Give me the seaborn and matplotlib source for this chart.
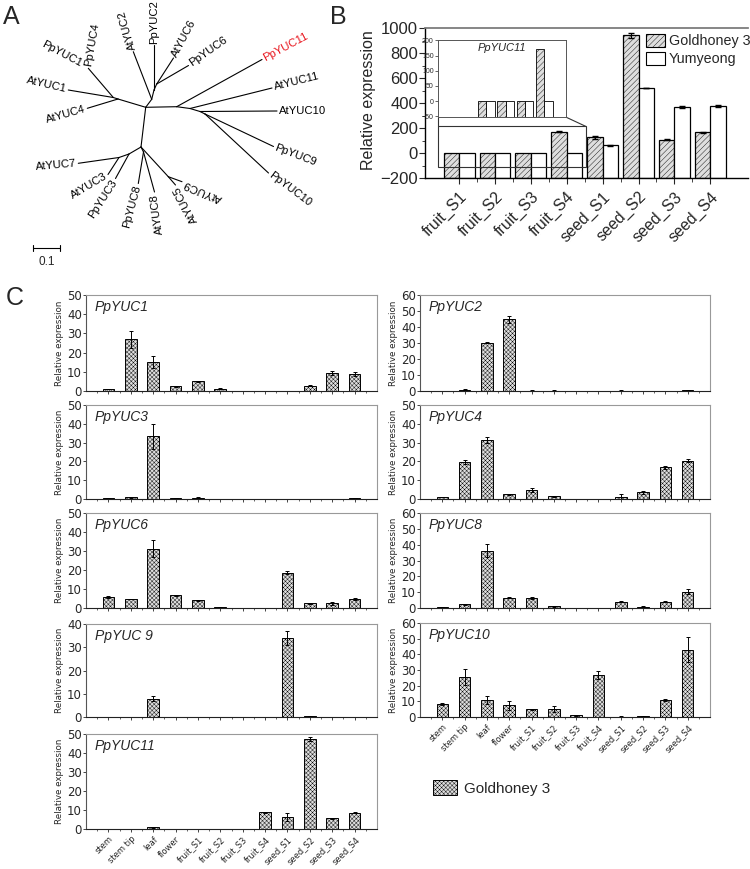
import numpy as np
import pandas as pd
import matplotlib
matplotlib.use("Agg")
import matplotlib.pyplot as plt
import seaborn as sns
from matplotlib.patches import Patch, Rectangle

# ==============================
# DATA
# ==============================
# panel A: unrooted tree, node positions (pixels)
tree_nodes = {
    "R": (145.7, 107.3), "N1": (176.7, 106.7), "N2": (190.0, 108.5),
    "N3": (200.0, 111.5), "N4": (205.0, 114.0),
    "U": (151.7, 99.3), "U2": (154.0, 90.0), "U3": (156.7, 84.0),
    "L": (113.3, 97.5), "L4": (118.0, 99.0), "P": (88.3, 68.3),
    "D": (141.0, 147.0), "D1": (119.0, 157.5), "D2": (129.0, 154.0),
    "D4": (143.5, 152.0), "D3": (168.3, 176.7),
    "PpYUC11": (262.0, 59.5), "AtYUC11": (272.0, 88.0), "AtYUC10": (277.0, 111.0),
    "PpYUC9": (273.5, 146.5), "PpYUC10": (268.5, 173.0),
    "AtYUC2": (133.3, 51.7), "PpYUC2": (154.0, 44.5), "AtYUC6": (173.5, 58.0),
    "PpYUC6": (188.5, 65.5), "AtYUC1": (68.3, 90.0), "AtYUC4": (87.3, 108.3),
    "AtYUC7": (78.3, 163.3), "AtYUC3": (108.0, 174.5), "PpYUC3": (115.5, 178.5),
    "PpYUC8": (138.3, 183.5), "AtYUC8": (154.5, 192.0),
    "AtYUC5": (175.5, 185.0), "AtYUC9": (182.0, 181.7),
}
tree_edges = [
    ("R", "N1"), ("N1", "PpYUC11"), ("N1", "N2"), ("N2", "AtYUC11"), ("N2", "N3"),
    ("N3", "AtYUC10"), ("N3", "N4"), ("N4", "PpYUC9"), ("N4", "PpYUC10"),
    ("R", "U"), ("U", "AtYUC2"), ("U", "U2"), ("U2", "PpYUC2"), ("U2", "U3"),
    ("U3", "AtYUC6"), ("U3", "PpYUC6"),
    ("R", "L4"), ("L4", "L"), ("L4", "AtYUC4"), ("L", "AtYUC1"), ("L", "P"),
    ("R", "D"), ("D", "D2"), ("D2", "D1"), ("D1", "AtYUC7"), ("D1", "AtYUC3"),
    ("D2", "PpYUC3"), ("D", "D4"), ("D4", "PpYUC8"), ("D4", "AtYUC8"),
    ("D", "D3"), ("D3", "AtYUC5"), ("D3", "AtYUC9"),
]
# label: (text, anchor node, rotation, text starts at tip?, gap)
tree_labels = [
    ("PpYUC11", "PpYUC11", 28, True, 2), ("AtYUC11", "AtYUC11", 14, True, 2),
    ("AtYUC10", "AtYUC10", 0, True, 2), ("PpYUC9", "PpYUC9", -21, True, 2),
    ("PpYUC10", "PpYUC10", -37, True, 2), ("AtYUC2", "AtYUC2", 106, True, 2),
    ("PpYUC2", "PpYUC2", 90, True, 1), ("AtYUC6", "AtYUC6", 62, True, 2),
    ("PpYUC6", "PpYUC6", 35, True, 2), ("PpYUC4", "P", 80, True, 2),
    ("PpYUC1", "P", -28, False, 8), ("AtYUC1", "AtYUC1", -13, False, 2),
    ("AtYUC4", "AtYUC4", 16, False, 2), ("AtYUC7", "AtYUC7", 5, False, 2),
    ("AtYUC3", "AtYUC3", 31, False, 2), ("PpYUC3", "PpYUC3", 57, False, 2),
    ("PpYUC8", "PpYUC8", 75, False, 2), ("AtYUC8", "AtYUC8", 98, False, 2),
    ("AtYUC5", "AtYUC5", 118, False, 2), ("AtYUC9", "AtYUC9", 157, False, 2),
]

# panel B
b_stages = ["fruit_S1", "fruit_S2", "fruit_S3", "fruit_S4",
            "seed_S1", "seed_S2", "seed_S3", "seed_S4"]
b_gold = [0, 0, 0, 170, 125, 941, 107, 168]
b_gold_err = [0, 0, 0, 3, 10, 20, 3, 4]
b_yum = [0, 0, 0, 0, 61, 520, 365, 376]
b_yum_err = [0, 0, 0, 0, 3, 3, 8, 10]
inset_stages = b_stages[:4]

# panel C
tissues = ["stem", "stem tip", "leaf", "flower", "fruit_S1", "fruit_S2", "fruit_S3",
           "fruit_S4", "seed_S1", "seed_S2", "seed_S3", "seed_S4"]
yuc1 = [1.0, 27.0, 15.2, 2.4, 5.0, 1.2, 0.1, 0.1, 0.1, 2.7, 9.4, 8.9]
yuc1_err = [0.2, 4.5, 3.0, 0.3, 0.4, 0.2, 0, 0, 0, 0.3, 1.0, 1.2]
yuc3 = [0.5, 0.8, 33.3, 0.4, 0.7, 0.1, 0.1, 0.1, 0.1, 0.1, 0.1, 0.4]
yuc3_err = [0.1, 0.1, 6.5, 0.1, 0.1, 0, 0, 0, 0, 0, 0, 0.1]
yuc6 = [5.8, 4.7, 31.2, 6.7, 4.0, 0.5, 0.1, 0.1, 18.6, 2.5, 2.6, 4.7]
yuc6_err = [0.3, 0.1, 4.4, 0.3, 0.3, 0.1, 0, 0, 0.8, 0.2, 0.8, 0.4]
yuc9 = [0.1, 0.2, 7.9, 0.1, 0.1, 0, 0, 0.1, 33.8, 0.4, 0, 0]
yuc9_err = [0, 0, 1.0, 0, 0, 0, 0, 0, 3.0, 0.2, 0, 0]
yuc11 = [0, 0, 0.9, 0, 0, 0, 0.2, 8.8, 6.3, 47.4, 5.6, 8.5]
yuc11_err = [0, 0, 0.2, 0, 0, 0, 0, 0.3, 2.0, 1.0, 0.2, 0.3]
yuc2 = [0.2, 0.8, 30.3, 44.8, 0.3, 0.3, 0.2, 0.2, 0.3, 0, 0.2, 0.5]
yuc2_err = [0.1, 0.2, 0.6, 2.2, 0.1, 0.1, 0.1, 0.1, 0.1, 0, 0.1, 0.3]
yuc4 = [1.0, 19.8, 31.4, 2.5, 4.9, 1.5, 0.2, 0.2, 1.3, 3.5, 16.8, 20.4]
yuc4_err = [0.2, 1.2, 1.5, 0.3, 1.0, 0.2, 0, 0, 1.5, 0.6, 0.7, 0.8]
yuc8 = [0.6, 2.3, 36.2, 6.6, 6.4, 1.1, 0.2, 0.2, 4.0, 0.8, 4.0, 10.4]
yuc8_err = [0.2, 0.3, 4.0, 0.5, 0.4, 0.3, 0, 0, 0.3, 0.2, 0.4, 1.3]
yuc10 = [8.5, 25.5, 10.8, 7.5, 4.8, 5.0, 1.0, 26.8, 0.3, 0.5, 10.8, 42.8]
yuc10_err = [0.6, 5.0, 2.5, 3.0, 0.5, 2.0, 0.3, 2.5, 0.1, 0.2, 0.7, 8.0]

# ==============================
# STYLE
# ==============================
sns.set_theme(style="white")
plt.rcParams["font.family"] = ["Liberation Sans", "DejaVu Sans"]
plt.rcParams["hatch.linewidth"] = 0.3

GOLD_FC = "#dedede"
W, H = 750, 869
fig = plt.figure(figsize=(7.5, 8.69), dpi=100)


def px_axes(x0, y0, x1, y1):
    return fig.add_axes([x0 / W, 1 - y1 / H, (x1 - x0) / W, (y1 - y0) / H])


# ==============================
# PANEL A - TREE
# ==============================
ax_t = px_axes(0, 0, 330, 290)
ax_t.set_xlim(0, 330)
ax_t.set_ylim(290, 0)
ax_t.axis("off")
for a, b in tree_edges:
    (x0, y0), (x1, y1) = tree_nodes[a], tree_nodes[b]
    ax_t.plot([x0, x1], [y0, y1], color="black", lw=0.8)

for name, node, rot, start, gap in tree_labels:
    x, y = tree_nodes[node]
    th = np.deg2rad(rot)
    off = gap if start else -gap
    x, y = x + off * np.cos(th), y - off * np.sin(th)
    ax_t.text(x, y, name, rotation=rot, rotation_mode="anchor",
              ha="left" if start else "right", va="center", fontsize=8.1,
              color="#e8141c" if name == "PpYUC11" else "black")

ax_t.plot([33, 60], [248, 248], color="black", lw=0.8)
ax_t.plot([33, 33], [245, 251], color="black", lw=0.8)
ax_t.plot([60, 60], [245, 251], color="black", lw=0.8)
ax_t.text(46.5, 262, "0.1", ha="center", va="center", fontsize=8.5)

# ==============================
# PANEL B
# ==============================
ax_b = px_axes(425, 28, 748, 178)
xb = np.arange(len(b_stages))
bw = 0.43
ax_b.bar(xb - bw / 2, np.array(b_gold) + 200, bottom=-200, width=bw, align="center",
         facecolor=GOLD_FC, edgecolor="black", linewidth=0.9, hatch="//////")
ax_b.bar(xb + bw / 2, np.array(b_yum) + 200, bottom=-200, width=bw, align="center",
         facecolor="white", edgecolor="black", linewidth=0.9)
gi = [i for i, e in enumerate(b_gold_err) if e > 0]
yi = [i for i, e in enumerate(b_yum_err) if e > 0]
ax_b.errorbar(xb[gi] - bw / 2, np.array(b_gold)[gi], yerr=np.array(b_gold_err)[gi],
              fmt="none", ecolor="black", elinewidth=0.8, capsize=2.5)
ax_b.errorbar(xb[yi] + bw / 2, np.array(b_yum)[yi], yerr=np.array(b_yum_err)[yi],
              fmt="none", ecolor="black", elinewidth=0.8, capsize=2.5)
ax_b.set_xlim(-0.95, 8.05)
ax_b.set_ylim(-200, 1000)
ax_b.set_yticks(range(-200, 1001, 200))
ax_b.set_yticks(range(-200, 1001, 100), minor=True)
ax_b.set_xticks(xb)
ax_b.set_xticks(xb[:-1] + 0.5, minor=True)
ax_b.set_xticklabels(b_stages, rotation=45, ha="right", rotation_mode="anchor",
                     fontsize=11.5)
ax_b.tick_params(axis="y", labelsize=12, length=4, width=0.8, direction="out",
                 left=True, pad=1)
ax_b.tick_params(axis="y", which="minor", length=2, width=0.6, left=True)
ax_b.tick_params(axis="x", length=4, width=0.8, direction="out", bottom=True, pad=4)
ax_b.tick_params(axis="x", which="minor", length=3, width=0.6, bottom=True)
for s in ["left", "bottom"]:
    ax_b.spines[s].set_color("black")
    ax_b.spines[s].set_linewidth(1.0)
ax_b.spines["top"].set_color("#777777")
ax_b.spines["right"].set_visible(False)
fig.text(368 / W, 1 - 100 / H, "Relative expression", rotation=90, ha="center",
         va="center", fontsize=11.5)

# zoom box and inset
ax_b.add_patch(Rectangle((-0.59, -112), 4.12, 325, fill=False, edgecolor="#333333",
                         lw=0.8, zorder=5))
ax_b.plot([-0.59, -0.59], [213, 288], color="#333333", lw=0.8, zorder=5)
ax_b.plot([3.53, 2.97], [213, 288], color="#333333", lw=0.8, zorder=5)

ax_in = ax_b.inset_axes([-0.59, 288, 3.56, 613], transform=ax_b.transData)
xi = np.arange(len(inset_stages))
ax_in.bar(xi - bw / 2, np.array(b_gold[:4]) + 52, bottom=-52, width=bw,
          facecolor=GOLD_FC, edgecolor="black", linewidth=0.6, hatch="//////")
ax_in.bar(xi + bw / 2, np.array(b_yum[:4]) + 52, bottom=-52, width=bw,
          facecolor="white", edgecolor="black", linewidth=0.6)
ax_in.set_xlim(-2.5, 4.1)
ax_in.set_ylim(-52, 200)
ax_in.set_yticks(range(-50, 201, 50))
ax_in.set_xticks([])
ax_in.tick_params(axis="y", labelsize=5, length=2, width=0.5, left=True, pad=1)
for s in ax_in.spines.values():
    s.set_color("#555555")
    s.set_linewidth(0.7)
ax_in.text(0.31, 0.86, "PpYUC11", transform=ax_in.transAxes, fontsize=8,
           fontstyle="italic")

handles_b = [Patch(facecolor=GOLD_FC, edgecolor="black", hatch="//////", lw=0.8),
             Patch(facecolor="white", edgecolor="black", lw=0.8)]
fig.legend(handles_b, ["Goldhoney 3", "Yumyeong"], loc="upper left",
           bbox_to_anchor=(646 / W, 1 - 34 / H), frameon=False, fontsize=10.3,
           handlelength=1.3, handleheight=1.0, handletextpad=0.3, labelspacing=0.25,
           borderaxespad=0, borderpad=0)

# ==============================
# PANEL C
# ==============================
panels = [
    ("PpYUC1", yuc1, yuc1_err, 50, (86, 295, 377, 391), False),
    ("PpYUC3", yuc3, yuc3_err, 50, (86, 405, 377, 499), False),
    ("PpYUC6", yuc6, yuc6_err, 50, (86, 513, 377, 608), False),
    ("PpYUC 9", yuc9, yuc9_err, 40, (86, 624, 377, 717), False),
    ("PpYUC11", yuc11, yuc11_err, 50, (86, 734, 377, 829), True),
    ("PpYUC2", yuc2, yuc2_err, 60, (420, 295, 710, 391), False),
    ("PpYUC4", yuc4, yuc4_err, 50, (420, 405, 710, 499), False),
    ("PpYUC8", yuc8, yuc8_err, 60, (420, 513, 710, 608), False),
    ("PpYUC10", yuc10, yuc10_err, 60, (420, 623, 710, 717), True),
]
xc = np.arange(len(tissues))
for name, vals, errs, top, box, show_x in panels:
    ax = px_axes(*box)
    df = pd.DataFrame({"tissue": tissues, "value": vals})
    sns.barplot(data=df, x="tissue", y="value", order=tissues, ax=ax,
                color=GOLD_FC, saturation=1, width=0.52, edgecolor="black",
                linewidth=0.7, hatch="xxxxxxxx", errorbar=None)
    idx = [i for i, e in enumerate(errs) if e > 0]
    ax.errorbar(xc[idx], np.array(vals)[idx], yerr=np.array(errs)[idx], fmt="none",
                ecolor="black", elinewidth=0.7, capsize=1.5, capthick=0.7)
    ax.set_xlim(-1, 12)
    ax.set_ylim(0, top)
    ax.set_yticks(range(0, top + 1, 10))
    ax.set_yticklabels([str(v) for v in range(0, top + 1, 10)],
                       fontfamily="DejaVu Sans")
    ax.set_xticks(xc)
    ax.set_xticks(np.arange(-0.5, 12, 1), minor=True)
    if show_x:
        ax.set_xticklabels(tissues, rotation=45, ha="right", rotation_mode="anchor",
                           fontsize=6, fontfamily="DejaVu Sans")
    else:
        ax.set_xticklabels([])
    ax.set_xlabel("")
    ax.set_ylabel("Relative expression", fontsize=6.3, fontfamily="DejaVu Sans",
                  labelpad=2)
    ax.tick_params(axis="y", labelsize=8.5, length=2, width=0.6, left=True, pad=1)
    ax.tick_params(axis="x", length=2, width=0.6, bottom=True, pad=2)
    ax.tick_params(axis="x", which="minor", length=1.5, width=0.5, bottom=True)
    for s in ["top", "right"]:
        ax.spines[s].set_color("#999999")
        ax.spines[s].set_linewidth(0.8)
    ax.spines["left"].set_color("#555555")
    ax.spines["bottom"].set_color("#222222")
    ax.spines["left"].set_linewidth(0.8)
    ax.spines["bottom"].set_linewidth(0.8)
    ax.text(0.031, 0.875, name, transform=ax.transAxes, fontsize=10,
            fontstyle="italic", va="center")

fig.legend([Patch(facecolor=GOLD_FC, edgecolor="black", hatch="xxxxxxxx", lw=0.7)],
           ["Goldhoney 3"], loc="center left", bbox_to_anchor=(433 / W, 1 - 788 / H),
           frameon=False, fontsize=11, handlelength=1.6, handleheight=1.1,
           handletextpad=0.4, borderaxespad=0, borderpad=0)

# ==============================
# PANEL LETTERS
# ==============================
fig.text(11 / W, 1 - 17 / H, "A", fontsize=18, ha="center", va="center")
fig.text(338 / W, 1 - 17 / H, "B", fontsize=18, ha="center", va="center")
fig.text(15 / W, 1 - 298 / H, "C", fontsize=18, ha="center", va="center")

fig.savefig("out.png", dpi=100)
plt.close(fig)
